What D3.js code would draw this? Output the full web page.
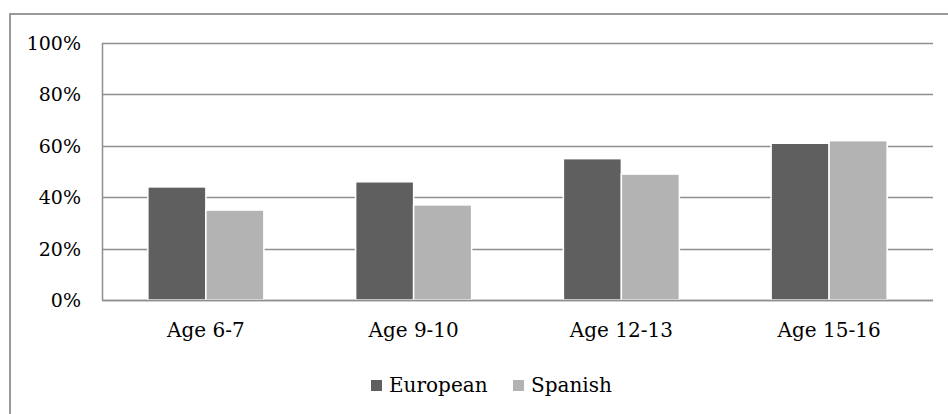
<!DOCTYPE html>
<html>
<head>
<meta charset="utf-8">
<script src="https://cdn.jsdelivr.net/npm/d3@7"></script>
<style>
  html, body { margin: 0; padding: 0; background: #fff; }
  svg { display: block; }
  text { font-family: "DejaVu Serif", "Liberation Serif", serif; fill: #000; }
</style>
</head>
<body>
<svg id="chart" width="948" height="414"></svg>
<script>
// Share of children by age group, European vs Spanish
const categories = ["Age 6-7", "Age 9-10", "Age 12-13", "Age 15-16"];
const seriesNames = ["European", "Spanish"];
const european = [44, 46, 55, 61];
const spanish = [35, 37, 49, 62];
const yTicks = [0, 20, 40, 60, 80, 100];
const colors = ["#5f5f5f", "#b3b3b3"];

const svg = d3.select("#chart");
const W = 948, H = 414;
const plot = { left: 102, right: 933, top: 43, bottom: 300 };

// Outer chart frame
svg.append("rect")
  .attr("x", 10).attr("y", 14)
  .attr("width", W + 10).attr("height", H + 10)
  .attr("fill", "none").attr("stroke", "#9a9a9a").attr("stroke-width", 2);

const x0 = d3.scaleBand().domain(categories).range([plot.left, plot.right]).paddingInner(0).paddingOuter(0);
const barW = 58;
const x1 = d3.scaleBand().domain(seriesNames).range([0, barW * 2]);
const y = d3.scaleLinear().domain([0, 100]).range([plot.bottom, plot.top]);

// Horizontal gridlines
svg.append("g").selectAll("line").data(yTicks).join("line")
  .attr("x1", plot.left).attr("x2", plot.right)
  .attr("y1", d => Math.round(y(d)) + 0.5).attr("y2", d => Math.round(y(d)) + 0.5)
  .attr("stroke", "#8f8f8f").attr("stroke-width", 1.5);

// Vertical axis line
svg.append("line")
  .attr("x1", plot.left + 0.5).attr("x2", plot.left + 0.5)
  .attr("y1", plot.top).attr("y2", plot.bottom)
  .attr("stroke", "#8f8f8f").attr("stroke-width", 1.5);

// Y-axis labels
svg.append("g").selectAll("text").data(yTicks).join("text")
  .attr("x", 81).attr("y", d => y(d) + 7)
  .attr("text-anchor", "end").attr("font-size", 19)
  .text(d => d + "%");

// Bars
const rows = categories.map((c, i) => ({ cat: c, vals: [european[i], spanish[i]] }));
const groups = svg.append("g").selectAll("g").data(rows).join("g")
  .attr("transform", d => `translate(${x0(d.cat) + x0.bandwidth() / 2 - barW},0)`);
groups.selectAll("rect").data(d => d.vals.map((v, j) => ({ v, s: seriesNames[j], j })))
  .join("rect")
  .attr("x", d => x1(d.s)).attr("width", x1.bandwidth())
  .attr("y", d => y(d.v)).attr("height", d => y(0) - y(d.v))
  .attr("fill", d => colors[d.j])
  .attr("stroke", "#fff").attr("stroke-width", 1.5);

// Baseline redrawn above bars
svg.append("line")
  .attr("x1", plot.left).attr("x2", plot.right)
  .attr("y1", Math.round(y(0)) + 0.5).attr("y2", Math.round(y(0)) + 0.5)
  .attr("stroke", "#8f8f8f").attr("stroke-width", 1.5);

// Category labels
svg.append("g").selectAll("text").data(categories).join("text")
  .attr("x", d => x0(d) + x0.bandwidth() / 2).attr("y", 337)
  .attr("text-anchor", "middle").attr("font-size", 20)
  .text(d => d);

// Legend
const legend = svg.append("g");
const legendItems = [{ name: seriesNames[0], x: 371 }, { name: seriesNames[1], x: 513 }];
legendItems.forEach((it, j) => {
  legend.append("rect").attr("x", it.x).attr("y", 380).attr("width", 11).attr("height", 11)
    .attr("fill", colors[j]);
  legend.append("text").attr("x", it.x + 18).attr("y", 392)
    .attr("font-size", 20).text(it.name);
});
</script>
</body>
</html>
